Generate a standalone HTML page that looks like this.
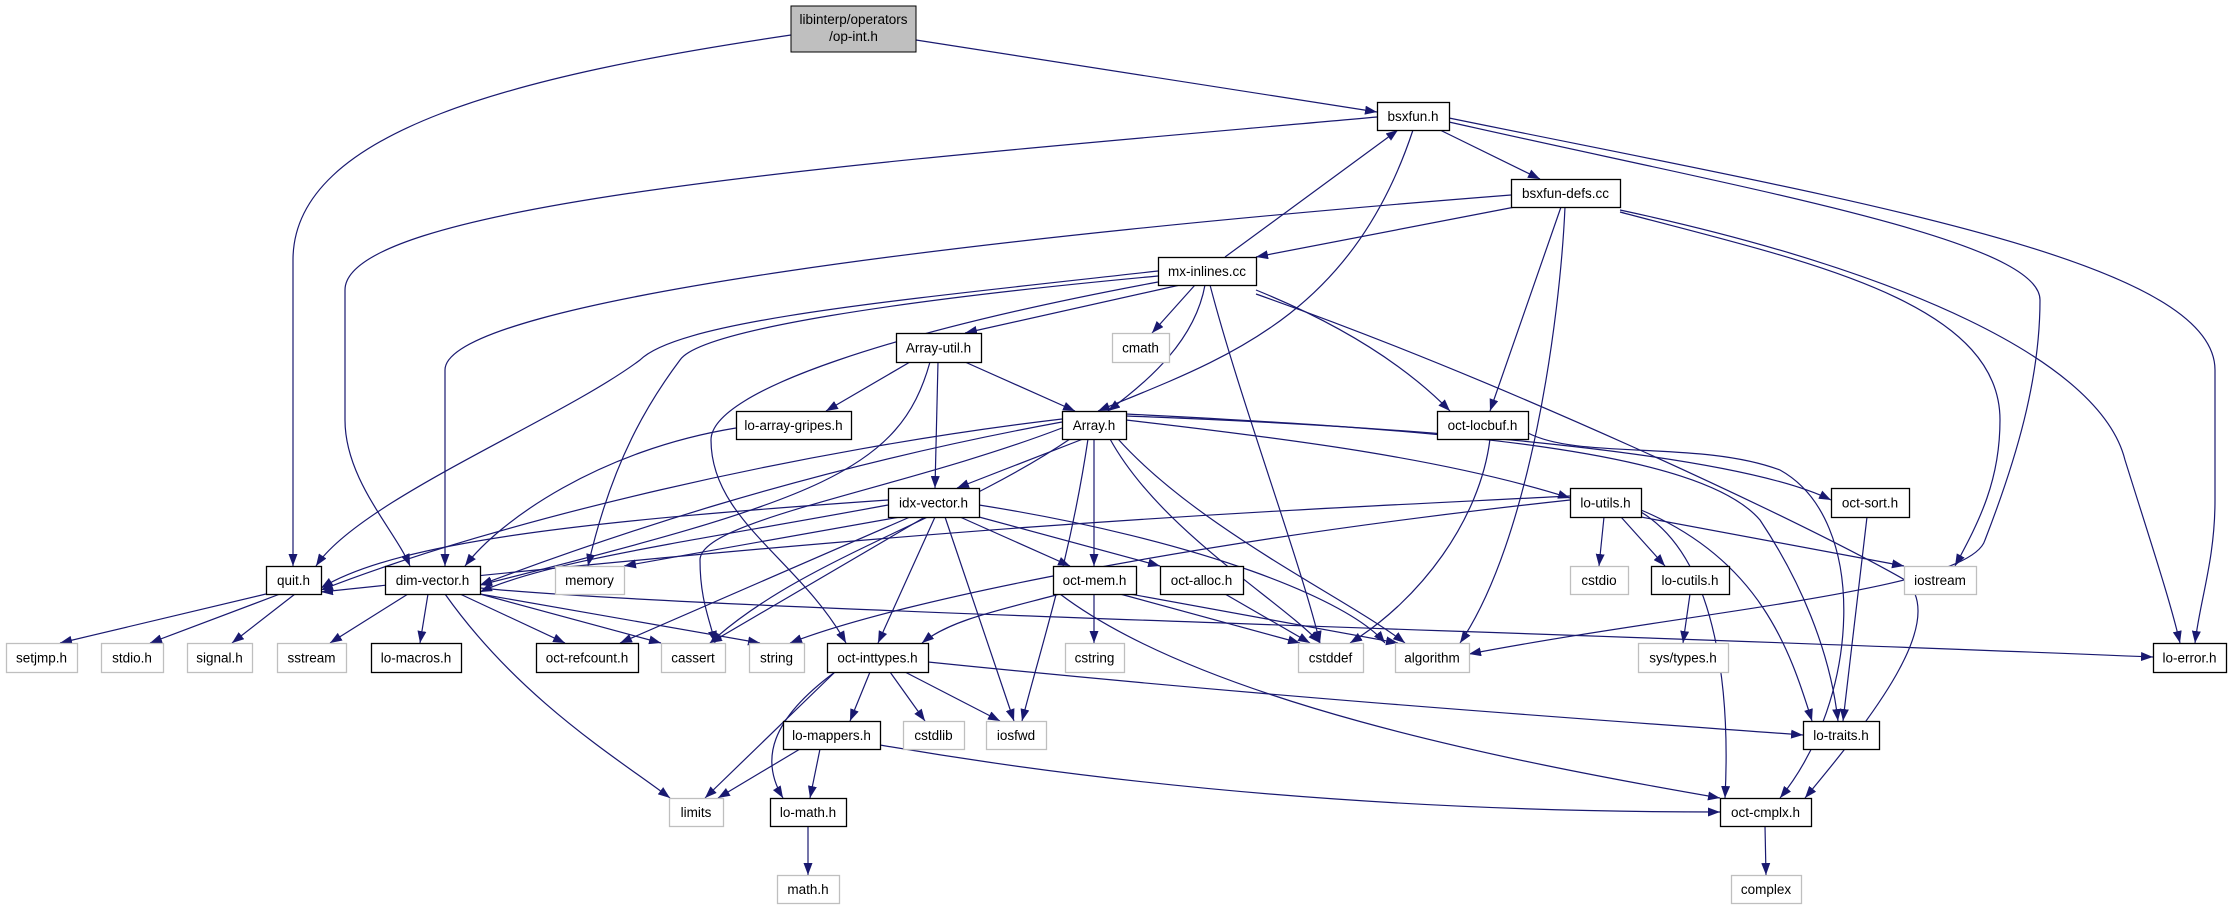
<!DOCTYPE html>
<html><head><meta charset="utf-8"><style>
html,body{margin:0;padding:0;background:#fff;width:2229px;height:909px;overflow:hidden}
svg{display:block}
text{font-family:"Liberation Sans",sans-serif;font-size:13.5px;fill:#000}
</style></head><body>
<svg id="s" width="2229" height="909" viewBox="0 0 2229 909" xmlns="http://www.w3.org/2000/svg">
<defs><marker id="a" viewBox="0 0 12 9" refX="12" refY="4.5" markerWidth="12" markerHeight="9" markerUnits="userSpaceOnUse" orient="auto"><path d="M0,0 L12,4.5 L0,9 z" fill="#191970"/></marker></defs>
<g id="edges" fill="none" stroke="#191970" stroke-width="1.2"></g>
<g id="nodes">
<rect x="791" y="6" width="125" height="46" fill="#bfbfbf" stroke="#000"/>
<text x="853.5" y="24" text-anchor="middle">libinterp/operators</text>
<text x="853.5" y="41" text-anchor="middle">/op-int.h</text>
</g>
</svg>
<script>
var N={
'bsxfun.h':[1377,102,1449,130,1],
'bsxfun-defs.cc':[1511,179,1620,207,1],
'mx-inlines.cc':[1158,257,1256,285,1],
'Array-util.h':[896,333,981,362,1],
'cmath':[1112,333,1169,362,0],
'lo-array-gripes.h':[736,411,851,439,1],
'Array.h':[1062,411,1126,439,1],
'oct-locbuf.h':[1437,411,1528,439,1],
'idx-vector.h':[888,488,979,517,1],
'lo-utils.h':[1570,488,1641,517,1],
'oct-sort.h':[1831,488,1909,517,1],
'quit.h':[266,566,321,594,1],
'dim-vector.h':[385,566,480,594,1],
'memory':[555,566,624,594,0],
'oct-mem.h':[1053,566,1136,594,1],
'oct-alloc.h':[1160,566,1243,594,1],
'cstdio':[1570,566,1628,594,0],
'lo-cutils.h':[1651,566,1729,594,1],
'iostream':[1904,566,1976,594,0],
'setjmp.h':[6,643,77,672,0],
'stdio.h':[101,643,163,672,0],
'signal.h':[187,643,252,672,0],
'sstream':[277,643,346,672,0],
'lo-macros.h':[371,643,461,672,1],
'oct-refcount.h':[536,643,638,672,1],
'cassert':[661,643,725,672,0],
'string':[749,643,804,672,0],
'oct-inttypes.h':[827,643,928,672,1],
'cstring':[1065,643,1124,672,0],
'cstddef':[1298,643,1363,672,0],
'algorithm':[1395,643,1469,672,0],
'sys/types.h':[1638,643,1728,672,0],
'lo-error.h':[2153,643,2226,672,1],
'lo-mappers.h':[783,721,880,749,1],
'cstdlib':[903,721,964,749,0],
'iosfwd':[986,721,1046,749,0],
'lo-traits.h':[1803,721,1879,749,1],
'limits':[669,798,723,826,0],
'lo-math.h':[770,798,846,826,1],
'oct-cmplx.h':[1720,798,1811,826,1],
'math.h':[777,875,839,903,0],
'complex':[1731,875,1801,903,0]
};
N['op-int']=[791,6,916,52,1];
var ns='http://www.w3.org/2000/svg',gN=document.getElementById('nodes'),gE=document.getElementById('edges');
for(var k in N){if(k=='op-int')continue;var b=N[k];
var r=document.createElementNS(ns,'rect');r.setAttribute('x',b[0]+.5);r.setAttribute('y',b[1]+.5);r.setAttribute('width',b[2]-b[0]);r.setAttribute('height',b[3]-b[1]);r.setAttribute('fill','#fff');r.setAttribute('stroke',b[4]?'#000':'#bfbfbf');r.setAttribute('stroke-width','1.3');gN.appendChild(r);
var t=document.createElementNS(ns,'text');t.setAttribute('x',(b[0]+b[2])/2);t.setAttribute('y',(b[1]+b[3])/2+5);t.setAttribute('text-anchor','middle');t.textContent=k;gN.appendChild(t);}
function P(d){var p=document.createElementNS(ns,'path');p.setAttribute('d',d);p.setAttribute('marker-end','url(#a)');gE.appendChild(p);}
function E(a,b,fx,tx){var A=N[a],B=N[b];var ax=fx!=null?fx:(A[0]+A[2])/2,bx=tx!=null?tx:(B[0]+B[2])/2;
 if(B[1]>A[3]){P('M'+ax+','+A[3]+' L'+bx+','+B[1]);}
 else if(B[3]<A[1]){P('M'+ax+','+A[1]+' L'+bx+','+B[3]);}
 else{var l=B[0]>A[2];var x1=l?A[2]:A[0],x2=l?B[0]:B[2],yy=(A[1]+A[3])/2,y2=(B[1]+B[3])/2;P('M'+x1+','+yy+' L'+x2+','+y2);}}
P('M791,35 C520,75 293,130 293,260 L293,566');
P('M916,40 L1377,112');
P('M1377,117 C900,160 345,200 345,290 L345,420 C345,480 395,530 410,566');
P('M1413,130 C1350,320 1220,360 1098,411');
E('bsxfun.h','bsxfun-defs.cc',1440,1540);
P('M1449,122 C1750,190 2040,240 2040,300 C2040,380 2016,460 1985,540 C1970,590 1700,610 1469,654');
P('M1449,118 C1850,200 2215,260 2215,370 L2215,500 C2215,560 2200,600 2195,643');
P('M1511,195 C1000,235 445,300 445,370 L445,566');
E('bsxfun-defs.cc','mx-inlines.cc',1515,1256);
E('bsxfun-defs.cc','oct-locbuf.h',1561,1490);
P('M1565,207 C1560,320 1530,540 1460,643');
P('M1620,212 C1800,260 2000,300 2000,420 C2000,480 1980,520 1955,566');
P('M1620,210 C1900,270 2100,360 2125,460 C2150,540 2170,600 2180,643');
E('mx-inlines.cc','bsxfun.h',1225,1398);
P('M1158,271 C900,300 680,320 640,360 C560,420 360,500 316,566');
P('M1158,276 C900,300 700,330 680,360 C650,400 612,460 588,566');
E('mx-inlines.cc','Array-util.h',1180,965);
E('mx-inlines.cc','cmath',1195,1152);
P('M1205,285 C1195,340 1150,380 1108,411');
P('M1158,282 C900,330 711,390 711,440 C711,520 800,560 846,643');
P('M1210,285 C1240,400 1300,560 1320,643');
P('M1256,290 C1330,320 1400,360 1450,411');
P('M1256,294 C1500,380 1800,520 1905,580 C1950,620 1870,720 1805,798');
E('Array-util.h','lo-array-gripes.h',910,826);
E('Array-util.h','Array.h',965,1075);
E('Array-util.h','idx-vector.h',938,935);
P('M930,362 C900,470 820,500 480,585');
P('M736,428 C600,450 500,520 465,566');
P('M1062,419 C800,450 500,520 321,590');
P('M1062,422 C800,470 600,540 480,585');
E('Array.h','idx-vector.h',1083,957);
P('M1062,428 C900,490 700,520 700,560 C700,600 710,620 715,643');
P('M1070,439 C950,520 800,560 710,643');
E('Array.h','oct-mem.h',1094,1094);
P('M1088,439 C1070,560 1040,650 1022,721');
P('M1110,439 C1160,530 1280,600 1320,643');
P('M1118,439 C1200,530 1350,600 1405,643');
P('M1126,420 C1300,440 1450,460 1570,498');
P('M1126,416 C1500,430 1750,460 1831,500');
P('M1126,414 C1450,430 1700,450 1760,520 C1800,580 1830,650 1838,721');
P('M1490,439 C1480,520 1420,600 1350,643');
P('M1528,433 C1580,460 1700,440 1780,470 C1870,520 1860,700 1780,798');
P('M888,500 C600,520 400,540 321,588');
P('M888,505 C700,540 550,560 480,592');
E('idx-vector.h','memory',900,624);
E('idx-vector.h','oct-refcount.h',910,620);
E('idx-vector.h','cassert',925,710);
E('idx-vector.h','oct-inttypes.h',935,878);
E('idx-vector.h','iosfwd',945,1014);
E('idx-vector.h','oct-mem.h',960,1070);
E('idx-vector.h','oct-alloc.h',979,1160);
P('M979,505 C1200,540 1350,600 1385,643');
P('M1570,496 C1300,510 1000,520 321,592');
P('M1570,500 C1200,540 900,600 790,643');
E('lo-utils.h','cstdio',1604,1599);
E('lo-utils.h','lo-cutils.h',1621,1665);
E('lo-utils.h','iostream',1641,1904);
P('M1641,512 C1720,560 1730,700 1725,798');
P('M1641,510 C1760,560 1790,650 1812,721');
E('oct-sort.h','lo-traits.h',1867,1843);
E('quit.h','setjmp.h',266,60);
E('quit.h','stdio.h',280,150);
E('quit.h','signal.h',295,232);
E('dim-vector.h','sstream',408,330);
E('dim-vector.h','lo-macros.h',428,420);
E('dim-vector.h','oct-refcount.h',460,565);
E('dim-vector.h','cassert',480,661);
E('dim-vector.h','string',480,760);
P('M445,594 C520,700 620,760 670,798');
P('M480,588 C700,610 1500,630 2153,657');
E('oct-mem.h','cstring',1094,1094);
E('oct-mem.h','cstddef',1120,1300);
E('oct-mem.h','algorithm',1130,1398);
P('M1060,594 C1000,610 950,620 922,643');
P('M1060,594 C1200,700 1500,760 1720,798');
E('oct-alloc.h','cstddef',1225,1310);
E('lo-cutils.h','sys/types.h',1690,1683);
P('M928,662 C1300,700 1600,720 1803,735');
E('oct-inttypes.h','limits',835,705);
P('M835,672 C770,720 760,760 783,798');
E('oct-inttypes.h','lo-mappers.h',870,850);
E('oct-inttypes.h','cstdlib',890,925);
E('oct-inttypes.h','iosfwd',905,1000);
E('lo-mappers.h','limits',800,718);
E('lo-mappers.h','lo-math.h',820,810);
P('M880,745 C1200,800 1500,812 1720,812');
E('lo-math.h','math.h',808,808);
E('oct-cmplx.h','complex',1765,1766);
</script>
</body></html>
